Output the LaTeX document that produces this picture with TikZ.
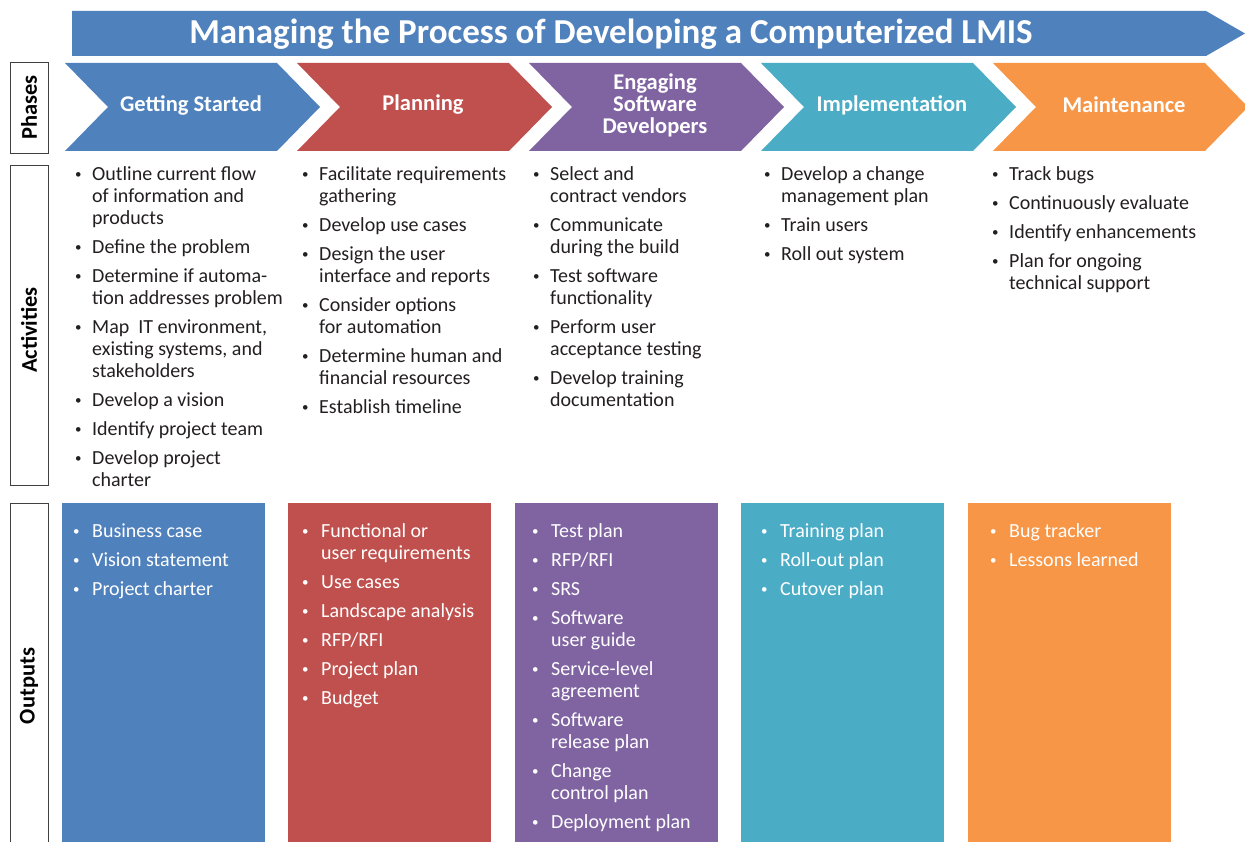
\documentclass[tikz,border=0pt]{standalone}
\usepackage{fontspec}
\setmainfont{Carlito}
\usetikzlibrary{positioning}

\definecolor{lmisblue}{HTML}{4F81BD}
\definecolor{lmisred}{HTML}{C0504D}
\definecolor{lmispurple}{HTML}{8064A2}
\definecolor{lmisteal}{HTML}{4BACC6}
\definecolor{lmisorange}{HTML}{F79646}
\definecolor{lmistext}{HTML}{231F20}

\tikzset{
  phaselabel/.style={text=white, font=\fontsize{22.5}{22}\selectfont\bfseries, align=center, inner sep=0pt},
  rowlabel/.style={rotate=90, text=black, font=\fontsize{22.5}{22}\selectfont\bfseries, inner sep=0pt},
  rowframe/.style={draw=black!75, line width=0.9pt},
  actlist/.style={anchor=north west, inner sep=0pt, text=lmistext, font=\fontsize{20}{22}\selectfont},
  outlist/.style={anchor=north west, inner sep=0pt, text=white, font=\fontsize{20}{22}\selectfont}
}

\newcommand{\bul}{\raisebox{0.2ex}{\fontsize{13}{13}\selectfont\textbullet}}
\newcommand{\gap}{\\[7pt]}

\begin{document}
\begin{tikzpicture}[x=1pt, y=-1pt]
            \useasboundingbox (0,0) rectangle (1245,842);

            % title arrow
            \fill[lmisblue] (72,11) -- (1206,11) -- (1245,33.5) -- (1206,56) -- (72,56) -- cycle;
            \node[text=white, font=\fontsize{35}{38}\selectfont\bfseries, inner sep=0pt] (title) at (611,34) {Managing the Process of Developing a Computerized LMIS};

            % row frames
            \draw[rowframe] (10,62) rectangle (48,153);
            \node[rowlabel] (phases) at (29,107.5) {Phases};

            \draw[rowframe] (10,165) rectangle (48,485);
            \node[rowlabel] (activities) at (29,330) {Activities};

            \draw[rowframe] (10,842) -- (10,503) -- (48,503) -- (48,842);
            \node[rowlabel] (outputs) at (29,686) {Outputs};

            % phase chevrons
            \fill[lmisblue]   (65,63)  -- (277,63)  -- (320,107)  -- (277,151)  -- (65,151)  -- (108,107) -- cycle;
            \fill[lmisred]    (297,63) -- (509,63)  -- (552,107)  -- (509,151)  -- (297,151) -- (340,107) -- cycle;
            \fill[lmispurple] (529,63) -- (741,63)  -- (784,107)  -- (741,151)  -- (529,151) -- (572,107) -- cycle;
            \fill[lmisteal]   (761,63) -- (973,63)  -- (1016,107) -- (973,151)  -- (761,151) -- (804,107) -- cycle;
            \fill[lmisorange] (993,63) -- (1205,63) -- (1248,107) -- (1205,151) -- (993,151) -- (1036,107) -- cycle;

            \node[phaselabel] (started) at (191,105) {Getting Started};
            \node[phaselabel] (planning) at (423,105) {Planning};
            \node[phaselabel] (engaging) at (655,105) {Engaging\\Software\\Developers};
            \node[phaselabel] (implement) at (892,105) {Implementation};
            \node[phaselabel] (maintain) at (1124,105) {Maintenance};

            % activities
            \node[actlist] (act1) at (75,165) {\begin{tabular}{@{}p{17pt}@{}l@{}}
              \bul & Outline current flow\\ & of information and\\ & products\gap
              \bul & Define the problem\gap
              \bul & Determine if automa-\\ & tion addresses problem\gap
              \bul & Map \ IT environment,\\ & existing systems, and\\ & stakeholders\gap
              \bul & Develop a vision\gap
              \bul & Identify project team\gap
              \bul & Develop project\\ & charter
            \end{tabular}};
            \node[actlist] (act2) at (302,165) {\begin{tabular}{@{}p{17pt}@{}l@{}}
              \bul & Facilitate requirements\\ & gathering\gap
              \bul & Develop use cases\gap
              \bul & Design the user\\ & interface and reports\gap
              \bul & Consider options\\ & for automation\gap
              \bul & Determine human and\\ & financial resources\gap
              \bul & Establish timeline
            \end{tabular}};
            \node[actlist] (act3) at (533,165) {\begin{tabular}{@{}p{17pt}@{}l@{}}
              \bul & Select and\\ & contract vendors\gap
              \bul & Communicate\\ & during the build\gap
              \bul & Test software\\ & functionality\gap
              \bul & Perform user\\ & acceptance testing\gap
              \bul & Develop training\\ & documentation
            \end{tabular}};
            \node[actlist] (act4) at (764,165) {\begin{tabular}{@{}p{17pt}@{}l@{}}
              \bul & Develop a change\\ & management plan\gap
              \bul & Train users\gap
              \bul & Roll out system
            \end{tabular}};
            \node[actlist] (act5) at (992,165) {\begin{tabular}{@{}p{17pt}@{}l@{}}
              \bul & Track bugs\gap
              \bul & Continuously evaluate\gap
              \bul & Identify enhancements\gap
              \bul & Plan for ongoing\\ & technical support
            \end{tabular}};

            % output columns
            \fill[lmisblue]   (62,503)  rectangle (265,842);
            \fill[lmisred]    (288,503) rectangle (491,842);
            \fill[lmispurple] (515,503) rectangle (718,842);
            \fill[lmisteal]   (741,503) rectangle (944,842);
            \fill[lmisorange] (968,503) rectangle (1171,842);

            \node[outlist] (out1) at (73,522) {\begin{tabular}{@{}p{19pt}@{}l@{}}
              \bul & Business case\gap
              \bul & Vision statement\gap
              \bul & Project charter
            \end{tabular}};
            \node[outlist] (out2) at (302,522) {\begin{tabular}{@{}p{19pt}@{}l@{}}
              \bul & Functional or\\ & user requirements\gap
              \bul & Use cases\gap
              \bul & Landscape analysis\gap
              \bul & RFP/RFI\gap
              \bul & Project plan\gap
              \bul & Budget
            \end{tabular}};
            \node[outlist] (out3) at (532,522) {\begin{tabular}{@{}p{19pt}@{}l@{}}
              \bul & Test plan\gap
              \bul & RFP/RFI\gap
              \bul & SRS\gap
              \bul & Software\\ & user guide\gap
              \bul & Service-level\\ & agreement\gap
              \bul & Software\\ & release plan\gap
              \bul & Change\\ & control plan\gap
              \bul & Deployment plan
            \end{tabular}};
            \node[outlist] (out4) at (761,522) {\begin{tabular}{@{}p{19pt}@{}l@{}}
              \bul & Training plan\gap
              \bul & Roll-out plan\gap
              \bul & Cutover plan
            \end{tabular}};
            \node[outlist] (out5) at (990,522) {\begin{tabular}{@{}p{19pt}@{}l@{}}
              \bul & Bug tracker\gap
              \bul & Lessons learned
            \end{tabular}};
        \end{tikzpicture}
\end{document}
